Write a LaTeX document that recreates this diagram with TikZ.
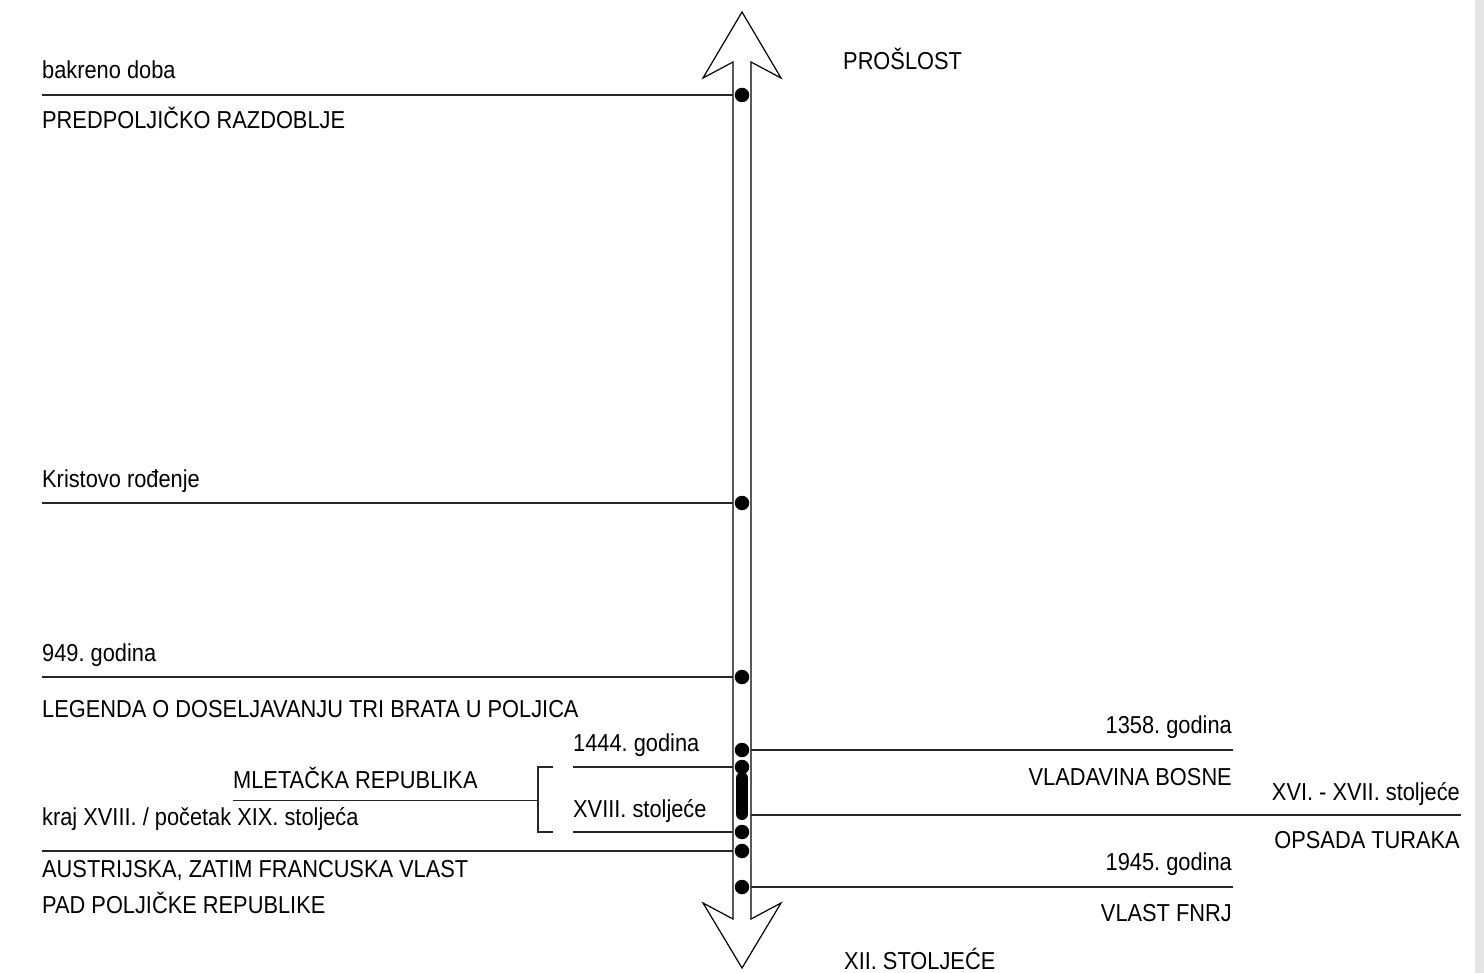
\documentclass[tikz,border=0pt]{standalone}
\usepackage{fontspec}
\setmainfont{Liberation Sans}[FakeStretch=0.89]
\frenchspacing
\begin{document}
\begin{tikzpicture}[x=1pt,y=-1pt,
  lbl/.style={inner sep=0pt, font=\fontsize{24.5}{29}\selectfont},
  lw/.style={lbl, anchor=base west},
  le/.style={lbl, anchor=base east},
  tline/.style={line width=1.2pt, draw=black!85},
  shaft/.style={line width=1.2pt, draw=black, fill=white, line join=miter},
  evdot/.style={circle, fill=black, inner sep=0pt, minimum size=14.5pt},
  bar/.style={line width=12pt, line cap=round, draw=black}]
\useasboundingbox (0,0) rectangle (1484,973);
\fill[white] (0,0) rectangle (1484,973);
\fill[black!10] (1475,0) rectangle (1484,973);

% double-headed timeline arrow
\draw[shaft] (733,919) -- (733,62) -- (703,78) -- (742,12) -- (781,78) -- (751,62)
  -- (751,919) -- (781,903) -- (742,968) -- (703,903) -- cycle;

% shaft sides (named points)
\foreach \n/\y in {a/95,b/503,c/677,d/767,f/832,g/851}{
  \coordinate (SL\n) at (733,\y);
}
\foreach \n/\y in {r1/750,r2/815,r3/887}{
  \coordinate (SR\n) at (751,\y);
}

% left free ends
\coordinate (La) at (42,95);
\coordinate (Lb) at (42,503);
\coordinate (Lc) at (42,677);
\coordinate (Ld) at (573,767);
\coordinate (Lf) at (573,832);
\coordinate (Lg) at (42,851);
% right free ends
\coordinate (Rr1) at (1233,750);
\coordinate (Rr2) at (1461,815);
\coordinate (Rr3) at (1233,887);

\draw[tline] (La) -- (SLa);
\draw[tline] (Lb) -- (SLb);
\draw[tline] (Lc) -- (SLc);
\draw[tline] (Ld) -- (SLd);
\draw[tline] (Lf) -- (SLf);
\draw[tline] (Lg) -- (SLg);
\draw[tline] (SRr1) -- (Rr1);
\draw[tline] (SRr2) -- (Rr2);
\draw[tline] (SRr3) -- (Rr3);

% bracket for Venetian republic
\coordinate (BrT) at (553,767);
\coordinate (BrTc) at (538,767);
\coordinate (BrBc) at (538,832);
\coordinate (BrB) at (553,832);
\coordinate (BrM) at (538,800.5);
\coordinate (MlL) at (233,800.5);
\draw[tline] (BrT) -- (BrTc) -- (BrBc) -- (BrB);
\draw[tline] (MlL) -- (BrM);

% event dots
\node[evdot] (d1) at (742,95) {};
\node[evdot] (d2) at (742,503) {};
\node[evdot] (d3) at (742,677) {};
\node[evdot] (d4) at (742,750) {};
\node[evdot] (d5) at (742,767) {};
\coordinate (barT) at (742,778);
\coordinate (barB) at (742,814);
\draw[bar] (barT) -- (barB);
\node[evdot] (d6) at (742,832) {};
\node[evdot] (d7) at (742,851) {};
\node[evdot] (d8) at (742,887) {};

% labels left
\node[lw] (t1) at (42,79) {bakreno doba};
\node[lw] (t2) at (42,129) {PREDPOLJIČKO RAZDOBLJE};
\node[lw] (t3) at (42,487) {Kristovo rođenje};
\node[lw] (t4) at (42,661) {949. godina};
\node[lw] (t5) at (42,717) {LEGENDA O DOSELJAVANJU TRI BRATA U POLJICA};
\node[lw] (t6) at (573,751) {1444. godina};
\node[lw] (t7) at (233,788) {MLETAČKA REPUBLIKA};
\node[lw] (t8) at (573,817) {XVIII. stoljeće};
\node[lw] (t9) at (42,825) {kraj XVIII. / početak XIX. stoljeća};
\node[lw] (t10) at (42,877) {AUSTRIJSKA, ZATIM FRANCUSKA VLAST};
\node[lw] (t11) at (42,913) {PAD POLJIČKE REPUBLIKE};

% labels right
\node[le] (r1) at (1232,733) {1358. godina};
\node[le] (r2) at (1232,785) {VLADAVINA BOSNE};
\node[le] (r3) at (1460,800) {XVI. - XVII. stoljeće};
\node[le] (r4) at (1460,848) {OPSADA TURAKA};
\node[le] (r5) at (1232,870) {1945. godina};
\node[le] (r6) at (1232,921) {VLAST FNRJ};

% arrow end labels
\node[lw] (past) at (843,70) {PROŠLOST};
\node[lw] (end) at (844,969) {XII. STOLJEĆE};
\end{tikzpicture}
\end{document}
